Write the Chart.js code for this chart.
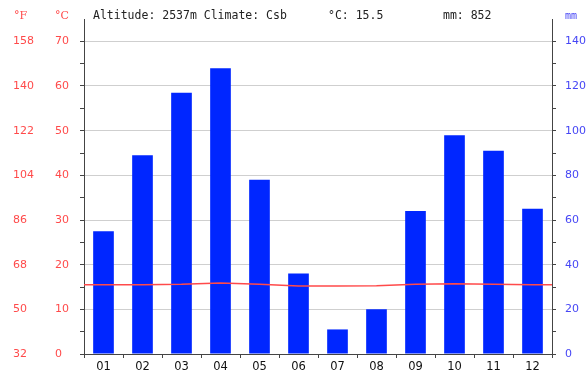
<!DOCTYPE html>
<html>
<head>
<meta charset="utf-8">
<script src="https://cdn.jsdelivr.net/npm/chart.js@4"></script>
<style>
html,body{margin:0;padding:0;background:#fff;}
canvas{display:block;}
</style>
</head>
<body>
<canvas id="c" width="586" height="371"></canvas>
<script>
// ---- data ----
const months = ['01','02','03','04','05','06','07','08','09','10','11','12'];
const precipMm = [55, 89, 117, 128, 78, 36, 11, 20, 64, 98, 91, 65];
const tempC = [15.5, 15.5, 15.6, 15.9, 15.6, 15.2, 15.2, 15.3, 15.6, 15.7, 15.6, 15.5];
const headerText = ['Altitude: 2537m Climate: Csb', '°C: 15.5', 'mm: 852'];
const unitLabels = ['°F', '°C', 'mm'];

// Temperature line wraps around the year (Dec before Jan, Jan after Dec) so it spans the plot.
const tempPoints = [{x: -1, y: tempC[11]}]
  .concat(tempC.map((t, i) => ({x: i, y: t})))
  .concat([{x: 12, y: tempC[0]}]);

const RED = '#ff4a4a';
const BLUE = '#4646f5';
const AXIS = '#444444';
const GRID = '#cfcfcf';
const tickFont = {family: 'DejaVu Sans', size: 11};

const headerPlugin = {
  id: 'header',
  afterDraw(chart) {
    const ctx = chart.ctx;
    ctx.save();
    ctx.textBaseline = 'middle';
    ctx.textAlign = 'left';
    ctx.font = '11px "DejaVu Serif"';
    ctx.fillStyle = RED;
    ctx.fillText(unitLabels[0], 14, 16);
    ctx.fillText(unitLabels[1], 55, 16);
    ctx.fillStyle = BLUE;
    ctx.font = '10px "DejaVu Sans Mono"';
    ctx.fillText(unitLabels[2], 565, 16);
    ctx.fillStyle = '#222';
    ctx.font = '11.5px "DejaVu Sans Mono"';
    ctx.fillText(headerText[0], 93, 16);
    ctx.fillText(headerText[1], 328, 16);
    ctx.fillText(headerText[2], 443, 16);
    ctx.restore();
  }
};

new Chart(document.getElementById('c'), {
  type: 'bar',
  data: {
    labels: months,
    datasets: [
      {
        type: 'line',
        data: tempPoints,
        xAxisID: 'x2',
        yAxisID: 'y',
        borderColor: RED,
        borderWidth: 1.5,
        pointRadius: 0,
        tension: 0,
        order: 0
      },
      {
        type: 'bar',
        data: precipMm,
        xAxisID: 'x',
        yAxisID: 'y2',
        backgroundColor: '#0026ff',
        borderWidth: 0,
        grouped: false,
        categoryPercentage: 1,
        barPercentage: 0.53,
        order: 1
      }
    ]
  },
  options: {
    responsive: false,
    animation: false,
    events: [],
    layout: {padding: {left: 13, right: 0, top: 19, bottom: 0}},
    plugins: {legend: {display: false}, tooltip: {enabled: false}},
    scales: {
      x: {
        type: 'category',
        offset: true,
        grid: {offset: true, drawOnChartArea: false, tickLength: 4, tickColor: AXIS},
        border: {color: AXIS, width: 1},
        ticks: {color: '#111', font: {family: 'DejaVu Sans', size: 11.5}, padding: 2, maxRotation: 0, autoSkip: false},
        afterFit(s) { s.height = 17; }
      },
      x2: {
        type: 'linear',
        display: false,
        offset: false,
        min: -0.5,
        max: 11.5
      },
      yF: {
        type: 'linear',
        position: 'left',
        weight: 1,
        min: 0,
        max: 75,
        grid: {display: false, drawTicks: false},
        border: {display: false},
        ticks: {
          stepSize: 10,
          color: RED,
          font: tickFont,
          padding: 0,
          crossAlign: 'far',
          callback: v => (v <= 70 ? String(Math.round(v * 1.8 + 32)) : null)
        },
        afterFit(s) { s.width = 42; }
      },
      y: {
        type: 'linear',
        position: 'left',
        weight: 0,
        min: 0,
        max: 75,
        grid: {
          color: ctx => (ctx.tick && ctx.tick.value % 10 === 0 && ctx.tick.value > 0 && ctx.tick.value <= 70 ? GRID : 'rgba(0,0,0,0)'),
          tickColor: ctx => (ctx.tick && ctx.tick.value <= 70 ? AXIS : 'rgba(0,0,0,0)'),
          tickLength: 4
        },
        border: {color: AXIS, width: 1},
        ticks: {
          stepSize: 5,
          color: RED,
          font: tickFont,
          padding: 10,
          crossAlign: 'far',
          callback: v => (v > 70 ? null : (v % 10 === 0 ? String(v) : ''))
        },
        afterFit(s) { s.width = 29; }
      },
      y2: {
        type: 'linear',
        position: 'right',
        min: 0,
        max: 150,
        grid: {
          drawOnChartArea: false,
          tickColor: ctx => (ctx.tick && ctx.tick.value <= 140 ? AXIS : 'rgba(0,0,0,0)'),
          tickLength: 4
        },
        border: {color: AXIS, width: 1},
        ticks: {
          stepSize: 10,
          color: BLUE,
          font: tickFont,
          padding: 9,
          callback: v => (v > 140 ? null : (v % 20 === 0 ? String(v) : ''))
        },
        afterFit(s) { s.width = 34; }
      }
    }
  },
  plugins: [headerPlugin]
});
</script>
</body>
</html>
